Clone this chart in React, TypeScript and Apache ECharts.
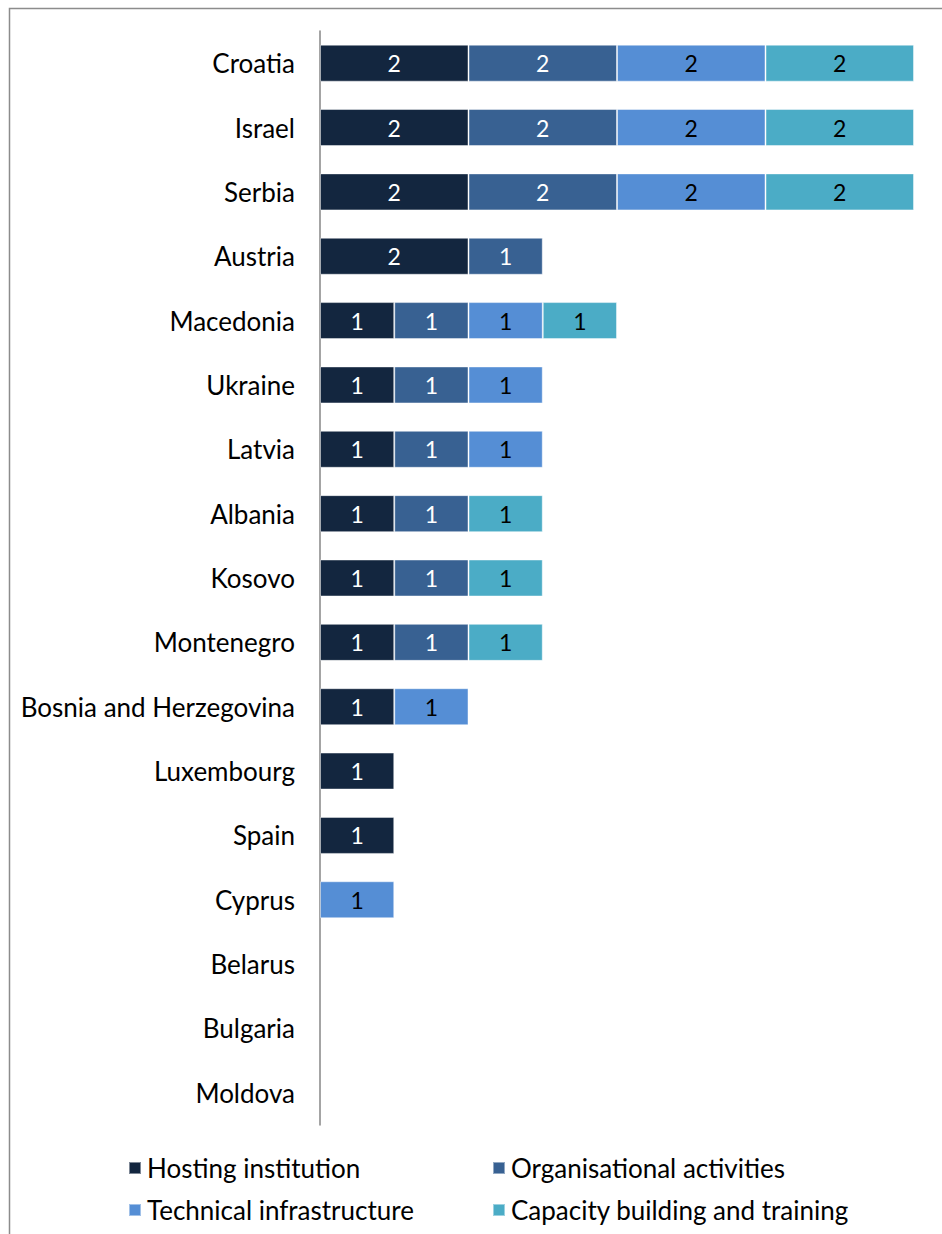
import React, { useEffect, useRef } from "react";
import * as echarts from "echarts";

const countries = [
  "Croatia", "Israel", "Serbia", "Austria", "Macedonia", "Ukraine", "Latvia", "Albania",
  "Kosovo", "Montenegro", "Bosnia and Herzegovina", "Luxembourg", "Spain", "Cyprus",
  "Belarus", "Bulgaria", "Moldova",
];
const hosting = [2, 2, 2, 2, 1, 1, 1, 1, 1, 1, 1, 1, 1, 0, 0, 0, 0];
const organisational = [2, 2, 2, 1, 1, 1, 1, 1, 1, 1, 0, 0, 0, 0, 0, 0, 0];
const technical = [2, 2, 2, 0, 1, 1, 1, 0, 0, 0, 1, 0, 0, 1, 0, 0, 0];
const capacity = [2, 2, 2, 0, 1, 0, 0, 1, 1, 1, 0, 0, 0, 0, 0, 0, 0];

const seriesNames = [
  "Hosting institution",
  "Organisational activities",
  "Technical infrastructure",
  "Capacity building and training",
];
const seriesColors = ["#13263F", "#386192", "#558ED5", "#4BACC6"];
const labelColors = ["#ffffff", "#ffffff", "#000000", "#000000"];

const FONT = "Lato, 'Noto Sans', sans-serif";

export default function App() {
  const ref = useRef<HTMLDivElement>(null);
  useEffect(() => {
    if (!ref.current) return;
    const chart = echarts.init(ref.current, null, { renderer: "svg" });
    const values = [hosting, organisational, technical, capacity];
    const legendPos = [
      { left: 128, top: 1155 },
      { left: 492, top: 1155 },
      { left: 128, top: 1197 },
      { left: 492, top: 1197 },
    ];
    chart.setOption({
      animation: false,
      backgroundColor: "#ffffff",
      textStyle: { fontFamily: FONT },
      graphic: [
        {
          type: "rect",
          shape: { x: 9.5, y: 8.5, width: 1000, height: 1400 },
          style: { fill: "none", stroke: "#8c8c8c", lineWidth: 1.5 },
          silent: true,
        },
      ],
      legend: seriesNames.map((n, i) => ({
        data: [n],
        left: legendPos[i].left,
        top: legendPos[i].top,
        icon: "rect",
        itemWidth: 12,
        itemHeight: 12,
        padding: 0,
        textStyle: { fontFamily: FONT, fontSize: 26, color: "#000", padding: [0, 0, 0, 1] },
      })),
      grid: { left: 320, right: 28, top: 31, bottom: 1234 - 1125 },
      xAxis: {
        type: "value",
        min: 0,
        max: 8,
        show: false,
      },
      yAxis: {
        type: "category",
        data: countries,
        inverse: true,
        axisLine: { show: true, lineStyle: { color: "#868686", width: 1.5 } },
        axisTick: { show: false },
        axisLabel: { fontFamily: FONT, fontSize: 26, color: "#000", margin: 25 },
      },
      series: seriesNames.map((n, i) => ({
        name: n,
        type: "bar",
        stack: "total",
        barWidth: 37,
        data: values[i].map((v) => (v > 0 ? v : null)),
        itemStyle: {
          color: seriesColors[i],
          borderColor: "rgba(255,255,255,0.45)",
          borderWidth: 1,
        },
        label: {
          show: true,
          position: "inside",
          fontFamily: FONT,
          fontSize: 23,
          color: labelColors[i],
        },
      })),
    });
    return () => chart.dispose();
  }, []);
  return (
    <div
      ref={ref}
      style={{ position: "fixed", left: 0, top: 0, width: 942, height: 1234 }}
    />
  );
}
